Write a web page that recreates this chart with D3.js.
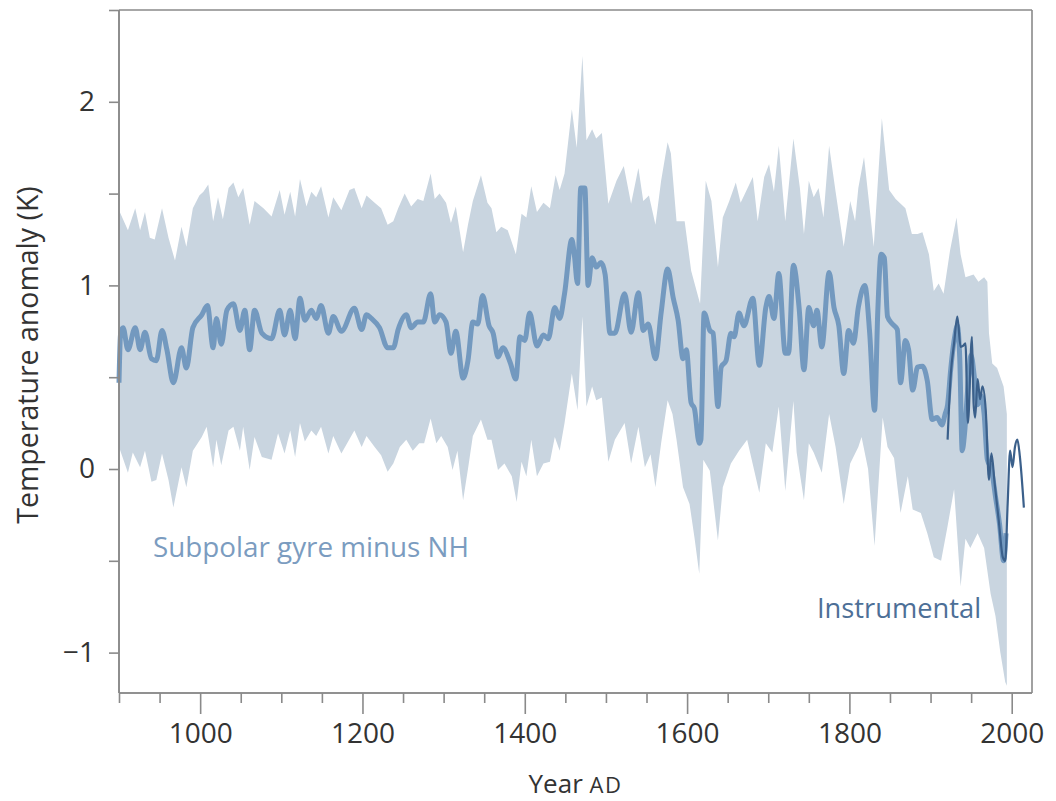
<!DOCTYPE html>
<html>
<head>
<meta charset="utf-8">
<script src="https://cdn.jsdelivr.net/npm/d3@7"></script>
<style>
  html, body { margin: 0; padding: 0; background: #ffffff; }
  svg { display: block; }
  text { font-family: "Open Sans", "Noto Sans", sans-serif; }
</style>
</head>
<body>
<svg id="chart" width="1056" height="801"></svg>
<script>
// Reconstructed subpolar gyre minus NH temperature anomaly (K), with uncertainty band
const proxyYears = [900,902,905,911,920,926,932,940,946,953,959,967,977,983,991,1002,1009,1016,1020,1026,1033,1041,1049,1055,1061,1067,1076,1088,1098,1104,1111,1117,1123,1129,1137,1143,1149,1158,1164,1174,1190,1199,1205,1211,1221,1231,1238,1244,1254,1260,1268,1275,1284,1289,1295,1303,1309,1315,1324,1330,1336,1342,1348,1356,1361,1367,1373,1382,1389,1394,1400,1406,1415,1423,1429,1437,1443,1449,1458,1461,1465,1469,1474,1478,1483,1488,1494,1499,1505,1511,1523,1531,1540,1546,1552,1561,1568,1576,1583,1589,1595,1599,1605,1609,1615,1617,1621,1628,1632,1638,1642,1648,1654,1658,1664,1670,1681,1689,1697,1701,1707,1713,1721,1725,1731,1738,1744,1750,1756,1760,1766,1775,1781,1787,1793,1799,1805,1811,1819,1825,1831,1835,1839,1843,1847,1853,1859,1863,1869,1873,1878,1884,1890,1896,1902,1908,1914,1918,1921,1925,1929,1933,1936,1939,1942,1946,1950,1954,1958,1962,1966,1970,1975,1980,1985,1990,1993];
const proxyValues = [0.47,0.74,0.77,0.65,0.77,0.65,0.745,0.60,0.59,0.755,0.65,0.47,0.66,0.55,0.77,0.84,0.89,0.66,0.82,0.68,0.865,0.90,0.755,0.865,0.65,0.865,0.74,0.71,0.865,0.73,0.865,0.71,0.93,0.81,0.865,0.82,0.89,0.74,0.83,0.75,0.875,0.76,0.84,0.82,0.77,0.66,0.66,0.76,0.84,0.77,0.80,0.80,0.955,0.80,0.84,0.80,0.63,0.75,0.495,0.59,0.80,0.79,0.945,0.78,0.74,0.61,0.66,0.58,0.49,0.72,0.70,0.85,0.67,0.73,0.71,0.88,0.82,0.955,1.25,1.17,1.01,1.53,1.53,1.00,1.15,1.10,1.125,1.06,0.74,0.74,0.955,0.745,0.96,0.755,0.79,0.60,0.85,1.09,0.93,0.81,0.60,0.65,0.36,0.33,0.14,0.16,0.85,0.755,0.74,0.34,0.555,0.59,0.74,0.72,0.85,0.78,0.93,0.565,0.88,0.94,0.82,1.065,0.63,0.63,1.11,0.88,0.54,0.88,0.78,0.865,0.665,1.07,0.88,0.78,0.52,0.755,0.685,0.88,1.00,0.74,0.32,0.86,1.17,1.15,0.83,0.79,0.76,0.47,0.70,0.65,0.43,0.555,0.56,0.48,0.27,0.28,0.24,0.30,0.35,0.55,0.70,0.78,0.60,0.10,0.20,0.45,0.62,0.50,0.35,0.40,0.30,0.05,0.0,-0.15,-0.30,-0.50,-0.35];

const upperYears = [900,911,920,926,932,938,944,953,961,969,977,983,991,999,1004,1010,1016,1022,1028,1035,1041,1047,1053,1061,1067,1078,1088,1098,1104,1111,1117,1123,1131,1137,1143,1149,1158,1164,1174,1184,1190,1199,1205,1215,1223,1231,1238,1244,1252,1260,1268,1275,1284,1289,1295,1303,1309,1315,1324,1330,1336,1346,1354,1359,1365,1371,1379,1389,1396,1402,1408,1415,1423,1431,1438,1443,1449,1458,1464,1471,1476,1483,1488,1495,1503,1513,1522,1531,1540,1546,1553,1561,1568,1576,1580,1587,1597,1605,1616,1623,1630,1638,1644,1652,1660,1666,1681,1687,1695,1701,1707,1713,1721,1731,1739,1744,1750,1756,1762,1768,1775,1783,1793,1801,1807,1811,1818,1824,1830,1840,1849,1857,1869,1877,1884,1890,1898,1904,1910,1916,1924,1932,1937,1943,1953,1959,1966,1970,1972,1976,1982,1986,1990,1994];
const upperValues = [1.41,1.30,1.42,1.30,1.40,1.26,1.25,1.42,1.26,1.135,1.32,1.21,1.42,1.49,1.51,1.55,1.35,1.48,1.36,1.53,1.56,1.48,1.53,1.33,1.46,1.42,1.375,1.52,1.385,1.51,1.375,1.58,1.43,1.51,1.48,1.54,1.37,1.48,1.41,1.52,1.53,1.42,1.49,1.45,1.42,1.33,1.35,1.42,1.50,1.43,1.47,1.46,1.61,1.47,1.50,1.45,1.34,1.43,1.18,1.33,1.46,1.60,1.45,1.42,1.29,1.32,1.30,1.17,1.39,1.37,1.54,1.40,1.45,1.42,1.60,1.52,1.61,1.96,1.75,2.25,1.79,1.85,1.80,1.83,1.445,1.57,1.65,1.445,1.64,1.46,1.49,1.33,1.57,1.78,1.72,1.35,1.35,1.08,0.90,1.57,1.46,1.10,1.37,1.46,1.56,1.45,1.59,1.35,1.59,1.66,1.51,1.76,1.35,1.80,1.53,1.28,1.57,1.48,1.53,1.37,1.76,1.51,1.21,1.46,1.35,1.53,1.70,1.46,1.21,1.91,1.52,1.47,1.42,1.28,1.28,1.29,1.17,0.97,1.01,0.955,1.19,1.37,1.17,1.045,1.06,1.02,1.045,1.02,0.74,0.575,0.55,0.50,0.45,0.30];

const lowerYears = [900,911,917,926,932,940,946,953,961,967,977,983,991,1002,1008,1016,1020,1026,1035,1041,1049,1053,1061,1067,1076,1088,1096,1104,1111,1117,1123,1129,1137,1143,1149,1158,1164,1174,1190,1199,1205,1215,1223,1231,1238,1246,1254,1262,1270,1276,1284,1291,1297,1305,1311,1317,1324,1330,1336,1346,1354,1359,1367,1375,1384,1390,1396,1402,1408,1415,1423,1431,1437,1443,1449,1458,1465,1471,1476,1483,1488,1495,1503,1511,1523,1531,1540,1548,1555,1561,1568,1576,1582,1587,1595,1603,1609,1615,1620,1628,1638,1644,1654,1664,1674,1689,1697,1705,1713,1721,1731,1735,1744,1750,1756,1766,1775,1783,1793,1801,1811,1815,1823,1831,1841,1847,1855,1863,1872,1878,1888,1896,1904,1913,1921,1929,1937,1943,1949,1958,1966,1974,1980,1986,1992,1994];
const lowerValues = [0.12,-0.02,0.09,0.01,0.10,-0.07,-0.06,0.085,-0.06,-0.21,0.01,-0.10,0.10,0.175,0.23,0.01,0.16,0.02,0.21,0.23,0.10,0.23,-0.005,0.175,0.065,0.05,0.195,0.085,0.21,0.065,0.25,0.15,0.21,0.18,0.23,0.085,0.18,0.085,0.21,0.12,0.18,0.12,0.075,-0.015,0.03,0.12,0.16,0.10,0.14,0.14,0.275,0.14,0.18,0.12,-0.005,0.10,-0.17,0.0,0.18,0.27,0.16,0.16,-0.005,0.03,-0.04,-0.18,0.04,-0.04,0.16,-0.04,0.03,0.04,0.175,0.10,0.25,0.52,0.32,0.83,0.34,0.45,0.375,0.39,0.04,0.16,0.25,0.03,0.23,0.01,0.08,-0.10,0.14,0.375,0.30,0.16,-0.10,-0.19,-0.37,-0.57,0.05,-0.01,-0.39,-0.10,0.03,0.10,0.16,-0.13,0.14,0.09,0.34,-0.12,0.37,0.09,-0.17,0.14,0.09,-0.02,0.30,0.12,-0.19,0.03,0.12,0.175,0.0,-0.42,0.28,0.12,0.06,-0.24,-0.04,-0.22,-0.24,-0.35,-0.48,-0.50,-0.31,-0.11,-0.64,-0.38,-0.43,-0.35,-0.43,-0.68,-0.80,-1.0,-1.16,-1.18];

// Instrumental record
const instYears = [1921,1925,1929,1933,1937,1940,1943,1946,1951,1953,1955,1958,1961,1964,1968,1972,1975,1979,1984,1989,1992,1995,1998,2001,2004,2007,2010,2015];
const instValues = [0.16,0.52,0.685,0.83,0.665,0.67,0.685,0.25,0.72,0.36,0.28,0.49,0.38,0.45,0.32,-0.06,0.085,-0.08,-0.28,-0.48,-0.50,-0.19,0.10,0.01,0.12,0.16,0.07,-0.21];

// Axis ticks
const yMajorTicks = [-1, 0, 1, 2];
const yMinorTicks = [-0.5, 0.5, 1.5, 2.5];
const yTickLabels = ["\u22121", "0", "1", "2"];
const xMajorTicks = [1000, 1200, 1400, 1600, 1800, 2000];
const xMinorTicks = [900, 950, 1050, 1100, 1150, 1250, 1300, 1350, 1450, 1500, 1550, 1650, 1700, 1750, 1850, 1900, 1950];

const svg = d3.select("#chart");
const plotLeft = 119, plotRight = 1032, plotTop = 10, plotBottom = 693;

const x = d3.scaleLinear().domain([900, 2025]).range([plotLeft, plotRight]);
const y = d3.scaleLinear().domain([-1.22, 2.5]).range([plotBottom, plotTop]);

const frameColor = "#8a8a8a";
const textColor = "#333333";

// Uncertainty band: upper edge forward, lower edge back
const upperPts = upperYears.map((yr, i) => [yr, upperValues[i]]);
const lowerPts = lowerYears.map((yr, i) => [yr, lowerValues[i]]).reverse();
const bandLine = d3.line().x(d => x(d[0])).y(d => y(d[1]));
svg.append("path")
  .attr("d", bandLine(upperPts.concat(lowerPts)) + "Z")
  .attr("fill", "#c9d5e0")
  .attr("stroke", "none");

// Proxy reconstruction
const proxyPts = proxyYears.map((yr, i) => [yr, proxyValues[i]]);
svg.append("path")
  .attr("d", d3.line().x(d => x(d[0])).y(d => y(d[1])).curve(d3.curveMonotoneX)(proxyPts))
  .attr("fill", "none")
  .attr("stroke", "#7399bf")
  .attr("stroke-width", 5)
  .attr("stroke-linejoin", "round");

// Instrumental
const instPts = instYears.map((yr, i) => [yr, instValues[i]]);
svg.append("path")
  .attr("d", d3.line().x(d => x(d[0])).y(d => y(d[1])).curve(d3.curveMonotoneX)(instPts))
  .attr("fill", "none")
  .attr("stroke", "#3b608b")
  .attr("stroke-width", 2.2)
  .attr("stroke-linejoin", "round");

// Frame: top and right edges
svg.append("line").attr("x1", plotLeft).attr("x2", plotRight).attr("y1", plotTop).attr("y2", plotTop)
  .attr("stroke", frameColor).attr("stroke-width", 1.6);
svg.append("line").attr("x1", plotRight).attr("x2", plotRight).attr("y1", plotTop).attr("y2", plotBottom)
  .attr("stroke", frameColor).attr("stroke-width", 1.6);

// Left axis
const yAxisMajor = d3.axisLeft(y).tickValues(yMajorTicks).tickSize(10).tickPadding(14)
  .tickFormat((d, i) => yTickLabels[i]);
const gy = svg.append("g").attr("transform", `translate(${plotLeft},0)`).call(yAxisMajor);
const yAxisMinor = d3.axisLeft(y).tickValues(yMinorTicks).tickSize(10).tickFormat("");
const gy2 = svg.append("g").attr("transform", `translate(${plotLeft},0)`).call(yAxisMinor);

// Bottom axis
const xAxisMajor = d3.axisBottom(x).tickValues(xMajorTicks).tickSize(21).tickPadding(9)
  .tickFormat(d3.format("d"));
const gx = svg.append("g").attr("transform", `translate(0,${plotBottom})`).call(xAxisMajor);
const xAxisMinor = d3.axisBottom(x).tickValues(xMinorTicks).tickSize(10).tickFormat("");
const gx2 = svg.append("g").attr("transform", `translate(0,${plotBottom})`).call(xAxisMinor);

[gy, gy2, gx, gx2].forEach(g => {
  g.select(".domain").attr("stroke", frameColor).attr("stroke-width", 1.6);
  g.selectAll(".tick line").attr("stroke", frameColor).attr("stroke-width", 1.6);
  g.selectAll(".tick text").attr("fill", textColor).attr("font-size", 28)
    .attr("font-family", "'Open Sans', sans-serif");
});
gx.select(".domain").attr("d", `M${plotLeft},0H${plotRight}`);
gx2.select(".domain").attr("d", `M${plotLeft},0H${plotRight}`);
gy.select(".domain").attr("d", `M0,${plotBottom}V${plotTop}`);
gy2.select(".domain").attr("d", `M0,${plotBottom}V${plotTop}`);

// Axis titles
svg.append("text")
  .attr("transform", `translate(38,${355}) rotate(-90)`)
  .attr("text-anchor", "middle")
  .attr("fill", textColor)
  .attr("font-size", 28.5)
  .text("Temperature anomaly (K)");

const xt = svg.append("text")
  .attr("x", (plotLeft + plotRight) / 2)
  .attr("y", 793)
  .attr("text-anchor", "middle")
  .attr("fill", textColor)
  .attr("font-size", 26);
xt.append("tspan").text("Year ");
xt.append("tspan").attr("font-size", 22).attr("letter-spacing", 1.5).text("AD");

// Series labels
svg.append("text")
  .attr("x", 153).attr("y", 557)
  .attr("fill", "#7b9cc0")
  .attr("font-size", 27.8)
  .text("Subpolar gyre minus NH");

svg.append("text")
  .attr("x", 817).attr("y", 618)
  .attr("fill", "#4d6f97")
  .attr("font-size", 27.3)
  .text("Instrumental");
</script>
</body>
</html>
